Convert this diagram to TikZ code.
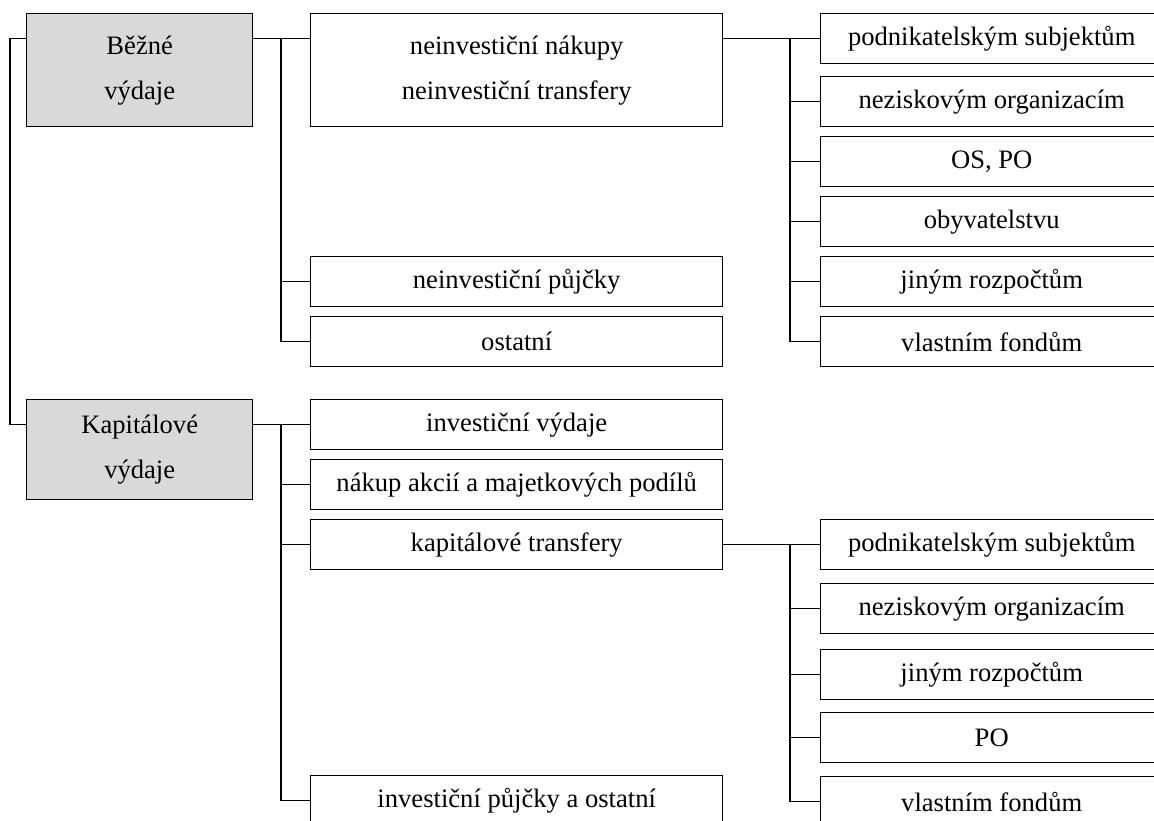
\documentclass[tikz,border=0pt]{standalone}
\usepackage{fontspec}
\setmainfont{Liberation Serif}
\definecolor{boxgrey}{RGB}{217,217,217}
\tikzset{
  box/.style={draw, line width=0.7pt, inner sep=0pt, anchor=north west, align=center,
    font=\fontsize{13.3}{22.5}\selectfont},
  greybox/.style={box, fill=boxgrey, minimum width=113pt},
  midbox/.style={box, minimum width=206pt, minimum height=25pt},
  sidebox/.style={box, minimum width=171pt, minimum height=25pt},
  link/.style={line width=0.7pt}
}
\begin{document}
\begin{tikzpicture}[x=0.5pt, y=-0.5pt]
  \useasboundingbox (0,0) rectangle (1154,820);
  \clip (0,0) rectangle (1154,820);
  % hlavni skupiny
  \node[greybox, minimum height=56.5pt] (bezne) at (26,13) {Běžné\\výdaje};
  \node[greybox, minimum height=50pt] (kapital) at (26,399) {Kapitálové\\výdaje};
  % bezne vydaje
  \node[midbox, minimum height=56.5pt] (neinvnak) at (310,13) {neinvestiční nákupy\\neinvestiční transfery};
  \node[midbox] (neinvpuj) at (310,256) {neinvestiční půjčky};
  \node[midbox] (ostatni) at (310,316) {ostatní};
  \node[sidebox] (podnik1) at (820,13) {podnikatelským subjektům};
  \node[sidebox] (nezisk1) at (820,76) {neziskovým organizacím};
  \node[sidebox] (ospo1) at (820,136) {OS, PO};
  \node[sidebox] (obyv1) at (820,196) {obyvatelstvu};
  \node[sidebox] (rozp1) at (820,256) {jiným rozpočtům};
  \node[sidebox] (fondy1) at (820,316) {vlastním fondům};
  % kapitalove vydaje
  \node[midbox] (invvyd) at (310,399) {investiční výdaje};
  \node[midbox] (nakup) at (310,459) {nákup akcií a majetkových podílů};
  \node[midbox] (kaptr) at (310,519) {kapitálové transfery};
  \node[midbox] (invpuj) at (310,775) {investiční půjčky a ostatní};
  \node[sidebox] (podnik2) at (820,519) {podnikatelským subjektům};
  \node[sidebox] (nezisk2) at (820,583) {neziskovým organizacím};
  \node[sidebox] (rozp2) at (820,649) {jiným rozpočtům};
  \node[sidebox] (po2) at (820,712) {PO};
  \node[sidebox] (fondy2) at (820,776) {vlastním fondům};
  % spojnice
  \draw[link] (podnik1.west -| bezne.west) -- ++(-16,0) |- (invvyd.west -| kapital.west);
  \draw[link] (podnik1.west -| bezne.east) -- (podnik1.west -| neinvnak.west);
  \coordinate (busA) at (281,38);
  \draw[link] (busA) |- (ostatni.west);
  \draw[link] (busA |- neinvpuj.west) -- (neinvpuj.west);
  \draw[link] (podnik1.west -| neinvnak.east) -- (podnik1.west);
  \coordinate (busB) at (790,38);
  \draw[link] (busB) |- (fondy1.west);
  \draw[link] (busB |- nezisk1.west) -- (nezisk1.west);
  \draw[link] (busB |- ospo1.west) -- (ospo1.west);
  \draw[link] (busB |- obyv1.west) -- (obyv1.west);
  \draw[link] (busB |- rozp1.west) -- (rozp1.west);
  \draw[link] (invvyd.west -| kapital.east) -- (invvyd.west);
  \coordinate (busC) at (281,424);
  \draw[link] (busC) |- (invpuj.west);
  \draw[link] (busC |- nakup.west) -- (nakup.west);
  \draw[link] (busC |- kaptr.west) -- (kaptr.west);
  \draw[link] (kaptr.east) -- (podnik2.west);
  \coordinate (busD) at (790,544);
  \draw[link] (busD) |- (fondy2.west);
  \draw[link] (busD |- nezisk2.west) -- (nezisk2.west);
  \draw[link] (busD |- rozp2.west) -- (rozp2.west);
  \draw[link] (busD |- po2.west) -- (po2.west);
\end{tikzpicture}
\end{document}
